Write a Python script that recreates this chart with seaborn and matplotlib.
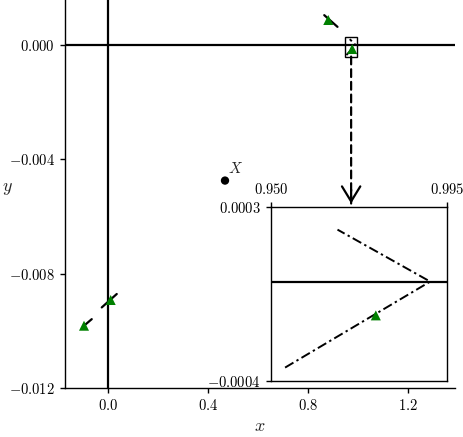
import matplotlib
matplotlib.use("Agg")
import matplotlib.pyplot as plt
import seaborn as sns
import pandas as pd
from matplotlib.patches import Rectangle

# ---- data ----
seg1_x = [-0.096, -0.065]
seg1_y = [-0.00982, -0.00959]
seg2_x = [-0.025, 0.035]
seg2_y = [-0.00918, -0.00871]
seg3_x = [0.865, 0.918]
seg3_y = [0.00105, 0.00064]
seg4_x = [0.9536, 0.9907, 0.9670]
seg4_y = [-0.000346, 0.0, 0.000209]

tri_x = [-0.096, 0.0108, 0.881, 0.9768]
tri_y = [-0.00982, -0.00892, 0.00088, -0.000136]

point_x = [0.468]
point_y = [-0.00474]
point_label = "$X$"

main_xticks = [0.0, 0.4, 0.8, 1.2]
main_xticklabels = ["$0.0$", "$0.4$", "$0.8$", "$1.2$"]
main_yticks = [0.0, -0.004, -0.008, -0.012]
main_yticklabels = ["$0.000$", "$-0.004$", "$-0.008$", "$-0.012$"]

inset_xlim = [0.950, 0.995]
inset_ylim = [-0.0004, 0.0003]
inset_xticklabels = ["$0.950$", "$0.995$"]
inset_yticklabels = ["$-0.0004$", "$0.0003$"]

# ---- style ----
sns.set_theme(style="ticks")
plt.rcParams["font.family"] = ["DejaVu Serif"]
plt.rcParams["mathtext.fontset"] = "cm"
plt.rcParams["axes.linewidth"] = 1.0
plt.rcParams["xtick.color"] = "black"
plt.rcParams["ytick.color"] = "black"
plt.rcParams["axes.edgecolor"] = "black"
plt.rcParams["xtick.major.size"] = 3.8
plt.rcParams["ytick.major.size"] = 3.8
plt.rcParams["xtick.major.width"] = 1.0
plt.rcParams["ytick.major.width"] = 1.0

fs_tick = 10.5

fig = plt.figure(figsize=(4.64, 4.37), dpi=100)
ax = fig.add_axes([65 / 464, 49 / 437, 390 / 464, 388 / 437])
axins = fig.add_axes([271 / 464, 56 / 437, 176 / 464, 174 / 437])

dash = (0, (5, 1.8, 1.2, 1.8))
short_segments = [(seg1_x, seg1_y), (seg2_x, seg2_y), (seg3_x, seg3_y)]


def plot_seg(a, sx, sy, ls, lw):
    df = pd.DataFrame({"x": sx, "y": sy})
    sns.lineplot(data=df, x="x", y="y", sort=False, estimator=None,
                 color="black", linestyle=ls, linewidth=lw, ax=a, zorder=3)


def draw(a):
    for sx, sy in short_segments:
        plot_seg(a, sx, sy, "-", 1.6)
    plot_seg(a, seg4_x, seg4_y, dash, 1.4)
    sns.scatterplot(x=tri_x, y=tri_y, marker="^", color="green", s=52,
                    edgecolor="none", ax=a, zorder=4)
    a.axhline(0, color="black", lw=1.6, zorder=2)


draw(ax)
ax.axvline(0, color="black", lw=1.6, zorder=2)
sns.scatterplot(x=point_x, y=point_y, color="black", s=36, edgecolor="none", ax=ax, zorder=4)
ax.annotate(point_label, xy=(point_x[0], point_y[0]), xytext=(2, 3),
            textcoords="offset points", fontsize=11, ha="left", va="bottom")

ax.set_xlim(-0.172, 1.388)
ax.set_ylim(-0.012, 0.00158)
ax.set_xticks(main_xticks)
ax.set_xticklabels(main_xticklabels, fontsize=fs_tick)
ax.set_yticks(main_yticks)
ax.set_yticklabels(main_yticklabels, fontsize=fs_tick)
ax.set_xlabel("$x$", fontsize=13, labelpad=3)
ax.set_ylabel("$y$", fontsize=13, rotation=0, va="center", ha="center")
ax.yaxis.set_label_coords(-0.147, 0.515)
sns.despine(ax=ax)

# rectangle marking the zoom region
ax.add_patch(Rectangle((inset_xlim[0], inset_ylim[0]), inset_xlim[1] - inset_xlim[0],
                       inset_ylim[1] - inset_ylim[0], fill=False, edgecolor="black",
                       lw=1.0, zorder=5))

# arrow from box to inset: dashed shaft + solid head
xc = (inset_xlim[0] + inset_xlim[1]) / 2
ax.annotate("", xy=(xc, 1.02), xycoords=(ax.transData, axins.transAxes),
            xytext=(xc, inset_ylim[0]), textcoords="data",
            arrowprops=dict(arrowstyle="-", linestyle=(0, (3.5, 2.2)), lw=1.6,
                            color="black", shrinkA=0, shrinkB=0), zorder=6)
ax.annotate("", xy=(xc, 1.02), xycoords=(ax.transData, axins.transAxes),
            xytext=(0, 10), textcoords="offset points",
            arrowprops=dict(arrowstyle="->,head_width=0.55,head_length=0.9",
                            lw=1.6, color="black", shrinkA=0, shrinkB=0), zorder=6)

# inset
draw(axins)
axins.set_xlim(inset_xlim)
axins.set_ylim(inset_ylim)
axins.set_xticks(inset_xlim)
axins.set_xticklabels(inset_xticklabels, fontsize=fs_tick)
axins.set_yticks(inset_ylim)
axins.set_yticklabels(inset_yticklabels, fontsize=fs_tick)
axins.xaxis.tick_top()
axins.set_xlabel("")
axins.set_ylabel("")
for s in axins.spines.values():
    s.set_visible(True)
    s.set_color("black")

fig.savefig("out.png", dpi=100)
